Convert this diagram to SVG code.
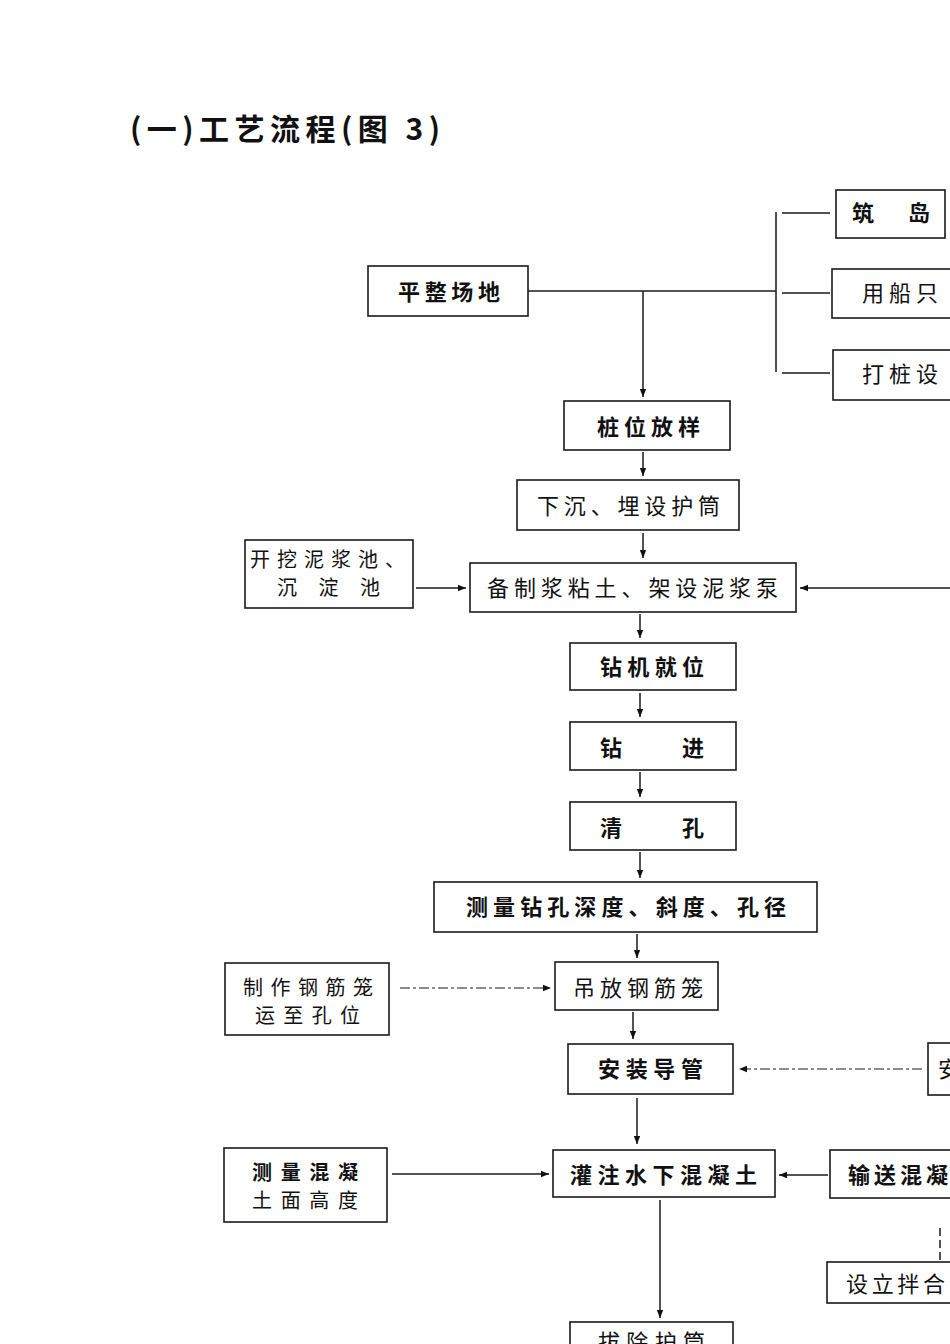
<svg xmlns="http://www.w3.org/2000/svg" width="950" height="1344" viewBox="0 0 950 1344">
<defs>
<style>
.bx{fill:none;stroke:#1a1a1a;stroke-width:1.6}
.t{font-family:"Noto Sans CJK SC","Noto Sans CJK JP",sans-serif;font-size:22px;font-weight:bold;fill:#111}
.tn{font-family:"Noto Sans CJK SC","Noto Sans CJK JP",sans-serif;font-size:22px;font-weight:normal;fill:#111}
.t2{font-family:"Noto Sans CJK SC","Noto Sans CJK JP",sans-serif;font-size:20px;fill:#111}
.ln{fill:none;stroke:#1a1a1a;stroke-width:1.5}
.dl{fill:none;stroke:#1a1a1a;stroke-width:1.2;stroke-dasharray:10 3 3 3}
</style>
<marker id="ah" viewBox="0 0 10 10" refX="10" refY="5" markerWidth="8" markerHeight="8" markerUnits="userSpaceOnUse" orient="auto"><path d="M0,1 L10,5 L0,9 Z" fill="#111"/></marker>
</defs>
<rect width="950" height="1344" fill="#fff"/>
<text x="130" y="140" font-family="'Noto Sans CJK SC',sans-serif" font-size="30" font-weight="bold" fill="#111" textLength="310" lengthAdjust="spacing">(一)工艺流程(图 3)</text>

<g id="connectors">
<path class="ln" d="M528,291 H776"/>
<path class="ln" d="M776,212 V372 M782,213 H830 M782,293 H830 M782,373 H830" stroke-width="2"/>
<path class="ln" d="M643,291 V397" marker-end="url(#ah)"/>
<path class="ln" d="M643,452 V476" marker-end="url(#ah)"/>
<path class="ln" d="M643,533 V558" marker-end="url(#ah)"/>
<path class="ln" d="M416,588 H466" marker-end="url(#ah)"/>
<path class="ln" d="M950,588 H800" marker-end="url(#ah)"/>
<path class="ln" d="M640,614 V638" marker-end="url(#ah)"/>
<path class="ln" d="M640,693 V717" marker-end="url(#ah)"/>
<path class="ln" d="M640,772 V797" marker-end="url(#ah)"/>
<path class="ln" d="M640,852 V878" marker-end="url(#ah)"/>
<path class="ln" d="M637,934 V958" marker-end="url(#ah)"/>
<path class="dl" d="M400,988 H551" marker-end="url(#ah)"/>
<path class="ln" d="M633,1012 V1039" marker-end="url(#ah)"/>
<path class="dl" d="M922,1069 H739" marker-end="url(#ah)"/>
<path class="ln" d="M637,1098 V1144" stroke-width="2.4" marker-end="url(#ah)"/>
<path class="ln" d="M392,1174 H549" marker-end="url(#ah)"/>
<path class="ln" d="M828,1175 H779" marker-end="url(#ah)"/>
<path class="ln" d="M940,1228 V1260" stroke-dasharray="8 4"/>
<path class="ln" d="M660,1200 V1318" stroke-width="1.1" marker-end="url(#ah)"/>
</g>

<g id="n1"><rect class="bx" x="368" y="266" width="160" height="50"/><text class="t" x="398" y="300" textLength="102">平整场地</text></g>
<g id="n2"><rect class="bx" x="836" y="190" width="109" height="48"/><text class="t" x="852" y="221" textLength="78">筑 岛</text></g>
<g id="n3"><rect class="bx" x="832" y="269" width="130" height="49"/><text class="tn" x="862" y="301" textLength="76">用船只</text></g>
<g id="n4"><rect class="bx" x="833" y="350" width="130" height="50"/><text class="tn" x="862" y="382" textLength="76">打桩设</text></g>
<g id="n5"><rect class="bx" x="564" y="401" width="166" height="49"/><text class="t" x="597" y="435" textLength="103">桩位放样</text></g>
<g id="n6"><rect class="bx" x="517" y="480" width="222" height="50"/><text class="tn" x="537" y="514" textLength="183">下沉、埋设护筒</text></g>
<g id="n7"><rect class="bx" x="245" y="540" width="168" height="68"/><text class="t2" x="250" y="567" textLength="155">开挖泥浆池、</text><text class="t2" x="277" y="595" textLength="103">沉 淀 池</text></g>
<g id="n8"><rect class="bx" x="470" y="563" width="326" height="49"/><text class="tn" x="487" y="596" textLength="291">备制浆粘土、架设泥浆泵</text></g>
<g id="n9"><rect class="bx" x="570" y="643" width="166" height="47"/><text class="t" x="600" y="675" textLength="104">钻机就位</text></g>
<g id="n10"><rect class="bx" x="570" y="722" width="166" height="48"/><text class="t" x="600" y="756" textLength="104">钻   进</text></g>
<g id="n11"><rect class="bx" x="570" y="802" width="166" height="48"/><text class="t" x="600" y="836" textLength="104">清   孔</text></g>
<g id="n12"><rect class="bx" x="434" y="882" width="383" height="50"/><text class="t" x="466" y="915" textLength="320">测量钻孔深度、斜度、孔径</text></g>
<g id="n13"><rect class="bx" x="225" y="963" width="164" height="72"/><text class="t2" x="243" y="995" textLength="130">制作钢筋笼</text><text class="t2" x="255" y="1023" textLength="105">运至孔位</text></g>
<g id="n14"><rect class="bx" x="555" y="962" width="163" height="48"/><text class="tn" x="573" y="996" textLength="130">吊放钢筋笼</text></g>
<g id="n15"><rect class="bx" x="568" y="1044" width="165" height="50"/><text class="t" x="598" y="1077" textLength="105">安装导管</text></g>
<g id="n16"><rect class="bx" x="928" y="1043" width="60" height="52"/><text class="tn" x="938" y="1077">安</text></g>
<g id="n17"><rect class="bx" x="224" y="1148" width="163" height="74"/><text class="t2" x="252" y="1180" font-weight="bold" textLength="106">测量混凝</text><text class="t2" x="252" y="1208" textLength="106">土面高度</text></g>
<g id="n18"><rect class="bx" x="553" y="1150" width="222" height="47"/><text class="t" x="570" y="1183" textLength="187">灌注水下混凝土</text></g>
<g id="n19"><rect class="bx" x="830" y="1150" width="140" height="48"/><text class="t" x="848" y="1183" textLength="100">输送混凝</text></g>
<g id="n20"><rect class="bx" x="827" y="1262" width="140" height="41"/><text class="tn" x="846" y="1292" textLength="99">设立拌合</text></g>
<g id="n21"><rect class="bx" x="570" y="1322" width="163" height="40"/><text class="tn" x="598" y="1350" textLength="107">拔除护筒</text></g>
</svg>
